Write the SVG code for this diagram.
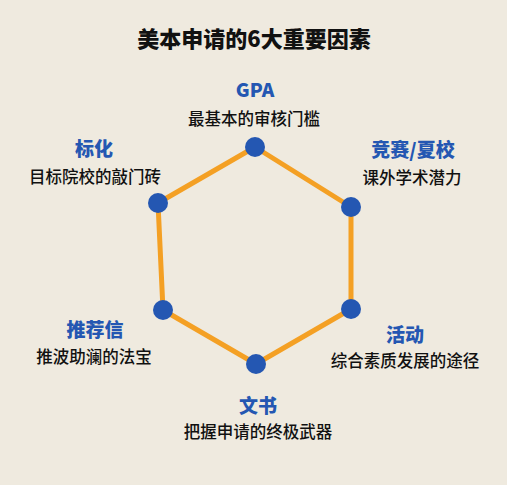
<svg xmlns="http://www.w3.org/2000/svg" width="507" height="485" viewBox="0 0 507 485">
<style>
.t{font-family:"Noto Sans CJK SC","Noto Sans",sans-serif;font-weight:900;font-size:22px;fill:#111;text-anchor:middle}
.h{font-family:"Noto Sans CJK SC","Noto Sans",sans-serif;font-weight:900;font-size:19px;fill:#2457B2;text-anchor:middle}
.d{font-family:"Noto Sans CJK SC","Noto Sans",sans-serif;font-weight:500;font-size:16.5px;fill:#111;text-anchor:middle}
.dot{fill:#2457B2}
.edge{fill:none;stroke:#F4A024;stroke-width:5;stroke-linejoin:round}
</style>
<rect width="507" height="485" fill="#EFEADF"/>
<text class="t" x="254" y="47">美本申请的6大重要因素</text>
<g id="connectors">
<polygon class="edge" points="255,147 351,207 351,309 256,364 163,310 158,203"/>
</g>
<g id="gpa"><circle class="dot" cx="255" cy="147" r="10"/><text class="h" x="255" y="97">GPA</text><text class="d" x="254" y="125">最基本的审核门槛</text></g>
<g id="jingsai"><circle class="dot" cx="351" cy="207" r="10"/><text class="h" x="413" y="157">竞赛/夏校</text><text class="d" x="412" y="184">课外学术潜力</text></g>
<g id="huodong"><circle class="dot" cx="351" cy="309" r="10"/><text class="h" x="405" y="342">活动</text><text class="d" x="405" y="367">综合素质发展的途径</text></g>
<g id="wenshu"><circle class="dot" cx="256" cy="364" r="10"/><text class="h" x="258" y="413">文书</text><text class="d" x="258" y="438">把握申请的终极武器</text></g>
<g id="tuijianxin"><circle class="dot" cx="163" cy="310" r="10"/><text class="h" x="95" y="337">推荐信</text><text class="d" x="94" y="363">推波助澜的法宝</text></g>
<g id="biaohua"><circle class="dot" cx="158" cy="203" r="10"/><text class="h" x="94" y="156">标化</text><text class="d" x="95" y="183">目标院校的敲门砖</text></g>
</svg>
